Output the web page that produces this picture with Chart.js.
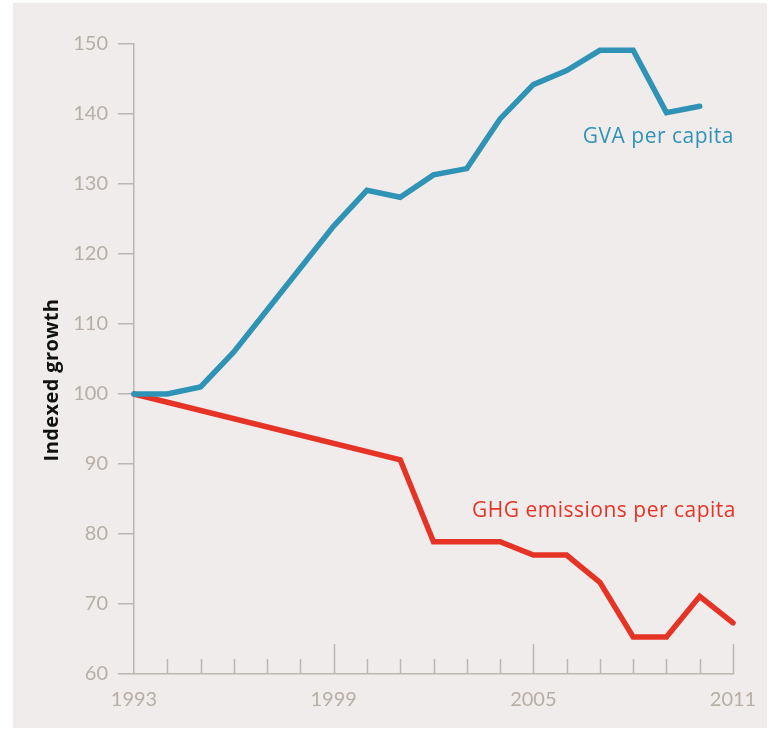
<!DOCTYPE html>
<html>
<head>
<meta charset="utf-8">
<script src="https://cdn.jsdelivr.net/npm/chart.js@4.4.1/dist/chart.umd.min.js"></script>
<style>
  html, body { margin: 0; padding: 0; background: #fff; }
  #panel { position: absolute; left: 13px; top: 3px; width: 754px; height: 725px; background: #f0ecec; }
  #chart { position: absolute; left: 0; top: 0; }
</style>
</head>
<body>
<div id="panel"></div>
<canvas id="chart" width="769" height="729"></canvas>
<script>
// Chart data
const years = ['1993','1994','1995','1996','1997','1998','1999','2000','2001','2002',
               '2003','2004','2005','2006','2007','2008','2009','2010','2011'];
const labeledYears = ['1993', '1999', '2005', '2011'];
const majorYears = ['1999', '2005', '2011'];
const gvaPerCapita = [100, 100, 101, 106, 112, 118, 124, 129.1, 128.1, 131.3,
                      132.2, 139.3, 144.2, 146.2, 149.1, 149.1, 140.2, 141.1, null];
// only the end points of the 1993-2001 stretch are known, the line just joins them
const ghgPerCapita = [100, null, null, null, null, null, null, null, 90.6, 78.9,
                      78.9, 78.9, 77, 77, 73.1, 65.3, 65.3, 71.1, 67.3];
const yTicks = [60, 70, 80, 90, 100, 110, 120, 130, 140, 150];

const blue = '#2f93b5';
const red = '#e53426';
const axisGrey = '#bcb6b1';
const tickText = '#b7afa5';
const fontFamily = 'Lato, "Open Sans", sans-serif';
const labelFont = '"Open Sans", Lato, sans-serif';

// draws the inward x tick marks, the axis title and the series names
const extras = {
    id: 'extras',
    beforeDatasetsDraw(chart) {
        const ctx = chart.ctx;
        const x = chart.scales.x;
        const bottom = chart.chartArea.bottom;
        ctx.save();
        ctx.strokeStyle = axisGrey;
        ctx.lineWidth = 1.5;
        years.forEach((yr, i) => {
            if (i === 0) return;
            const px = Math.round(x.getPixelForValue(i)) + 0.5;
            const len = majorYears.includes(yr) ? 30 : 15;
            ctx.beginPath();
            ctx.moveTo(px, bottom);
            ctx.lineTo(px, bottom - len);
            ctx.stroke();
        });
        ctx.restore();
    },
    afterDraw(chart) {
        const ctx = chart.ctx;
        const x = chart.scales.x;
        const y = chart.scales.y;
        ctx.save();
        // y axis title
        ctx.translate(52, 380);
        ctx.rotate(-Math.PI / 2);
        ctx.fillStyle = '#111';
        ctx.font = 'bold 20px ' + labelFont;
        ctx.letterSpacing = '0.4px';
        ctx.textAlign = 'center';
        ctx.textBaseline = 'middle';
        ctx.fillText('Indexed growth', 0, 0);
        ctx.restore();

        ctx.save();
        ctx.font = '21px ' + labelFont;
        ctx.letterSpacing = '0.5px';
        ctx.textAlign = 'right';
        ctx.textBaseline = 'alphabetic';
        const right = x.getPixelForValue(years.length - 1);
        ctx.fillStyle = blue;
        ctx.fillText('GVA per capita', right + 1, y.getPixelForValue(135.9));
        ctx.fillStyle = red;
        ctx.fillText('GHG emissions per capita', right + 3, y.getPixelForValue(82.4));
        ctx.restore();
    }
};

new Chart(document.getElementById('chart'), {
    type: 'line',
    data: {
        labels: years,
        datasets: [
            {
                label: 'GVA per capita',
                data: gvaPerCapita,
                borderColor: blue,
                borderWidth: 5.5,
                borderJoinStyle: 'miter',
                borderCapStyle: 'round',
                pointRadius: 0,
                tension: 0,
                clip: false
            },
            {
                label: 'GHG emissions per capita',
                data: ghgPerCapita,
                borderColor: red,
                borderWidth: 5.5,
                borderJoinStyle: 'miter',
                borderCapStyle: 'round',
                pointRadius: 0,
                tension: 0,
                spanGaps: true,
                clip: false
            }
        ]
    },
    options: {
        responsive: false,
        animation: false,
        layout: { padding: { top: 44, right: 36, bottom: 0, left: 0 } },
        plugins: {
            legend: { display: false },
            tooltip: { enabled: false }
        },
        scales: {
            x: {
                offset: false,
                grid: { display: false },
                border: { display: true, color: axisGrey, width: 1.5 },
                ticks: {
                    autoSkip: false,
                    maxRotation: 0,
                    padding: 6,
                    color: tickText,
                    font: { family: fontFamily, size: 20 },
                    callback: (v, i) => labeledYears.includes(years[i]) ? years[i] : ''
                },
                afterFit: s => { s.height = 55; }
            },
            y: {
                min: 60,
                max: 150,
                afterBuildTicks: s => { s.ticks = yTicks.map(v => ({ value: v })); },
                grid: {
                    drawOnChartArea: false,
                    drawTicks: true,
                    tickLength: 16,
                    color: axisGrey,
                    lineWidth: 1.5
                },
                border: { display: true, color: axisGrey, width: 1.5 },
                ticks: {
                    padding: 10,
                    color: tickText,
                    font: { family: fontFamily, size: 20 }
                },
                afterFit: s => { s.width = 134; }
            }
        }
    },
    plugins: [extras]
});
</script>
</body>
</html>
